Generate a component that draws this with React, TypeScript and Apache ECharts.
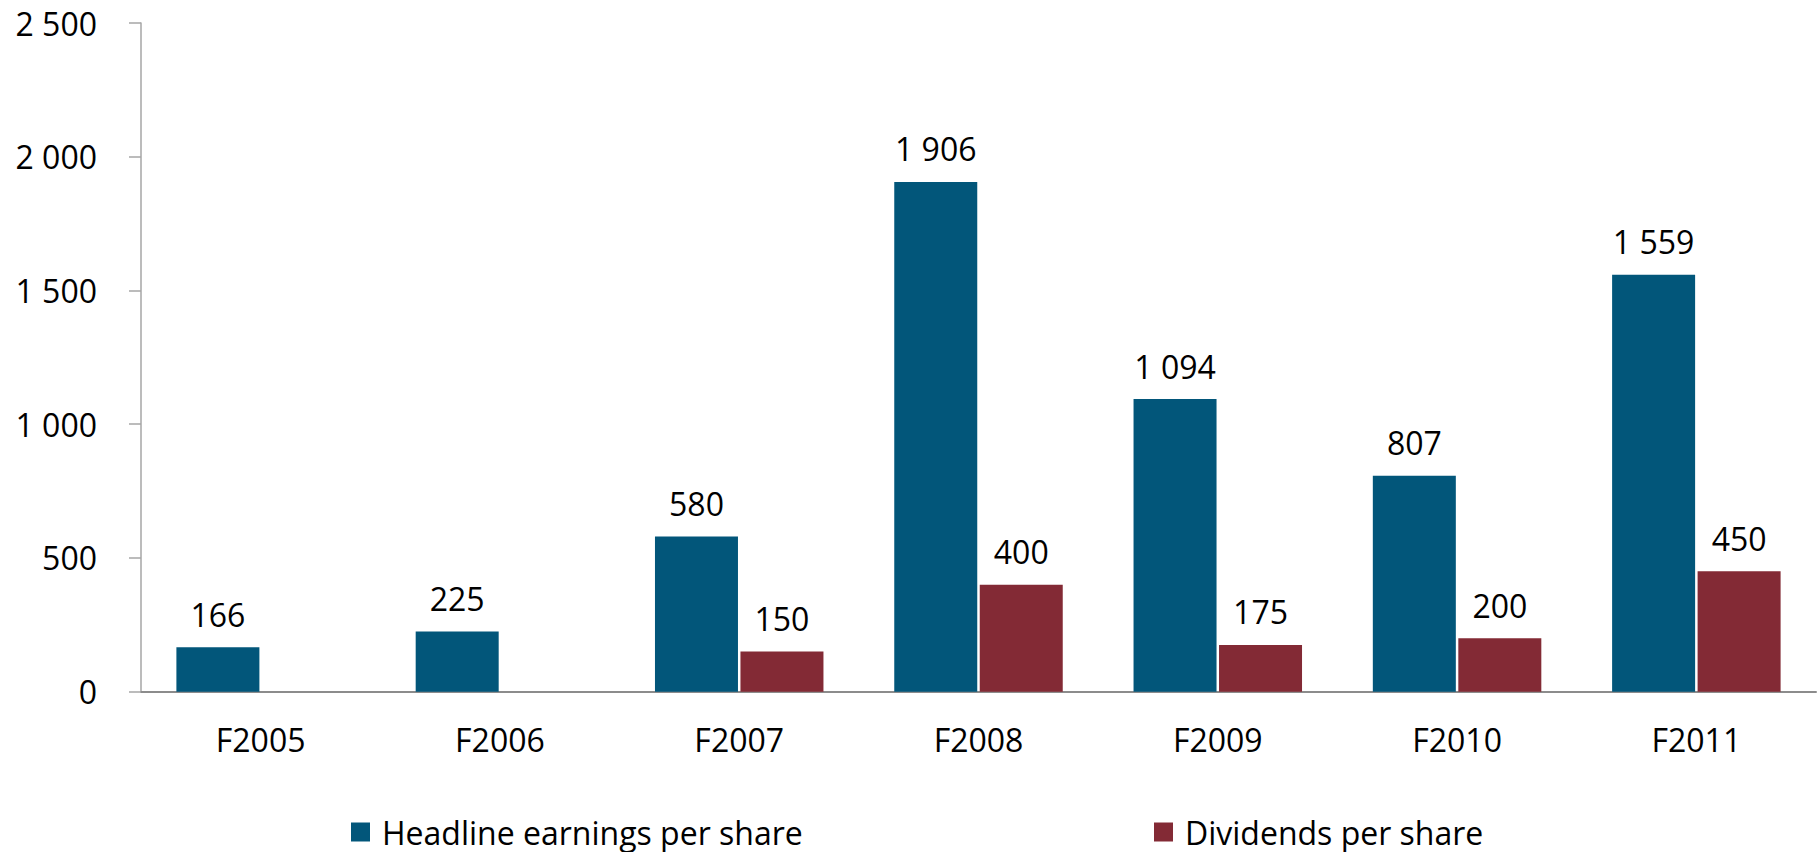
import React, { useEffect, useRef } from "react";
import * as echarts from "echarts";

const categories = ["F2005", "F2006", "F2007", "F2008", "F2009", "F2010", "F2011"];
const headlineEps = [166, 225, 580, 1906, 1094, 807, 1559];
const dividends = [null, null, 150, 400, 175, 200, 450];
const seriesNames = ["Headline earnings per share", "Dividends per share"];
const yTicks = { min: 0, max: 2500, interval: 500 };

const FONT = "'Open Sans', sans-serif";
const BLUE = "#02567A";
const RED = "#832A35";

const fmt = (v: number) => String(v).replace(/\B(?=(\d{3})+(?!\d))/g, " ");

export default function App() {
  const ref = useRef<HTMLDivElement>(null);
  useEffect(() => {
    if (!ref.current) return;
    const chart = echarts.init(ref.current, undefined, { renderer: "svg" });
    const labelStyle = {
      show: true,
      position: "top" as const,
      distance: 17,
      fontSize: 32,
      lineHeight: 32,
      fontFamily: FONT,
      color: "#000",
      formatter: (p: any) => (p.value == null ? "" : fmt(p.value)),
    };
    const legendBase = {
      top: 812,
      padding: 0,
      itemWidth: 19,
      itemHeight: 19,
      icon: "rect",
      textStyle: { fontSize: 32, lineHeight: 40, fontFamily: FONT, color: "#000", padding: [0, 0, 0, 7] },
    };
    chart.setOption({
      animation: false,
      backgroundColor: "#fff",
      grid: { left: 141, right: 2, top: 23, bottom: 160.3, containLabel: false },
      legend: [
        { ...legendBase, data: [seriesNames[0]], left: 351 },
        { ...legendBase, data: [seriesNames[1]], left: 1154 },
      ],
      xAxis: {
        type: "category",
        data: categories,
        axisLine: { show: true, lineStyle: { color: "#8C8C8C", width: 2 } },
        axisTick: { show: false },
        axisLabel: { fontSize: 32, lineHeight: 32, fontFamily: FONT, color: "#000", margin: 32 },
      },
      yAxis: {
        type: "value",
        min: yTicks.min,
        max: yTicks.max,
        interval: yTicks.interval,
        axisLine: { show: true, lineStyle: { color: "#A6A6A6", width: 1.5 } },
        axisTick: { show: true, length: 12, lineStyle: { color: "#A6A6A6", width: 1.5 } },
        splitLine: { show: false },
        axisLabel: {
          fontSize: 32,
          fontFamily: FONT,
          color: "#000",
          margin: 44,
          formatter: (v: number) => fmt(v),
        },
      },
      series: [
        {
          name: seriesNames[0],
          type: "bar",
          data: headlineEps,
          barWidth: 83,
          barGap: "3%",
          itemStyle: { color: BLUE },
          label: labelStyle,
        },
        {
          name: seriesNames[1],
          type: "bar",
          data: dividends,
          barWidth: 83,
          barGap: "3%",
          itemStyle: { color: RED },
          label: labelStyle,
        },
      ],
    });
    return () => chart.dispose();
  }, []);
  return (
    <div
      ref={ref}
      style={{ position: "fixed", left: 0, top: 0, width: 1818, height: 852, background: "#fff" }}
    />
  );
}
